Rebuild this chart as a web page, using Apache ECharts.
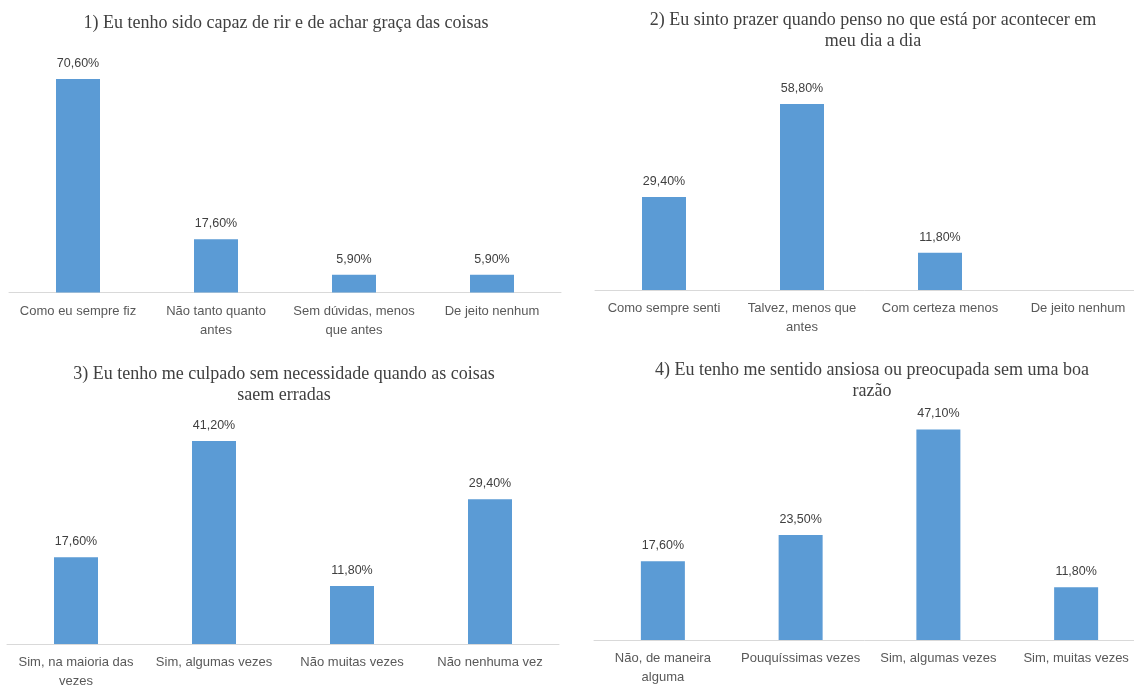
<!DOCTYPE html>
<html>
<head>
<meta charset="utf-8">
<script src="https://cdn.jsdelivr.net/npm/echarts@6/dist/echarts.min.js"></script>
<style>
html,body{margin:0;padding:0;background:#fff;}
#chart{width:1134px;height:686px;}
</style>
</head>
<body>
<div id="chart"></div>
<script>
// ---- Data ----
const titles = [
  "1) Eu tenho sido capaz de rir e de achar graça das coisas",
  "2) Eu sinto prazer quando penso no que está por acontecer em\nmeu dia a dia",
  "3) Eu tenho me culpado sem necessidade quando as coisas\nsaem erradas",
  "4) Eu tenho me sentido ansiosa ou preocupada sem uma boa\nrazão"
];
const categories1 = ["Como eu sempre fiz", "Não tanto quanto\nantes", "Sem dúvidas, menos\nque antes", "De jeito nenhum"];
const values1 = [70.6, 17.6, 5.9, 5.9];
const categories2 = ["Como sempre senti", "Talvez, menos que\nantes", "Com certeza menos", "De jeito nenhum"];
const values2 = [29.4, 58.8, 11.8, 0];
const categories3 = ["Sim, na maioria das\nvezes", "Sim, algumas vezes", "Não muitas vezes", "Não nenhuma vez"];
const values3 = [17.6, 41.2, 11.8, 29.4];
const categories4 = ["Não, de maneira\nalguma", "Pouquíssimas vezes", "Sim, algumas vezes", "Sim, muitas vezes"];
const values4 = [17.6, 23.5, 47.1, 11.8];
const axisMax = [80, 70, 45, 50];

// ---- Layout ----
const panels = [
  {cats: categories1, vals: values1, grid: {left: 9, width: 552, top: 50.5, height: 242}, title: {cx: 286, top: 12.5}},
  {cats: categories2, vals: values2, grid: {left: 595, width: 552, top: 68.6, height: 221.4}, title: {cx: 873, top: 9.5}},
  {cats: categories3, vals: values3, grid: {left: 7, width: 552, top: 422.4, height: 221.6}, title: {cx: 284, top: 363.5}},
  {cats: categories4, vals: values4, grid: {left: 594, width: 551, top: 416.5, height: 223.5}, title: {cx: 872, top: 359.5}}
];

const fmt = v => (v === 0 ? '' : v.toFixed(2).replace('.', ',') + '%');

const option = {
  backgroundColor: '#ffffff',
  animation: false,
  title: panels.map((p, i) => ({
    text: titles[i],
    left: p.title.cx,
    top: p.title.top,
    textAlign: 'center',
    padding: 0,
    textStyle: {
      fontFamily: 'Liberation Serif',
      fontSize: 18,
      fontWeight: 'normal',
      color: '#404040',
      lineHeight: 21
    }
  })),
  grid: panels.map(p => Object.assign({containLabel: false, outerBoundsMode: 'none'}, p.grid)),
  xAxis: panels.map((p, i) => ({
    type: 'category',
    gridIndex: i,
    data: p.cats,
    axisTick: {show: false},
    axisLine: {lineStyle: {color: '#d9d9d9', width: 1}},
    axisLabel: {
      interval: 0,
      margin: 9,
      color: '#595959',
      fontFamily: 'Liberation Sans',
      fontSize: 13,
      lineHeight: 19
    }
  })),
  yAxis: panels.map((p, i) => ({
    type: 'value',
    gridIndex: i,
    min: 0,
    max: axisMax[i],
    show: false,
    splitLine: {show: false}
  })),
  series: panels.map((p, i) => ({
    type: 'bar',
    xAxisIndex: i,
    yAxisIndex: i,
    data: p.vals,
    barWidth: 44,
    itemStyle: {color: '#5b9bd5'},
    label: {
      show: true,
      position: 'top',
      distance: 9,
      color: '#404040',
      fontFamily: 'Liberation Sans',
      fontSize: 12.5,
      formatter: params => fmt(params.value)
    }
  }))
};

const chart = echarts.init(document.getElementById('chart'), null, {renderer: 'canvas'});
chart.setOption(option);
</script>
</body>
</html>
